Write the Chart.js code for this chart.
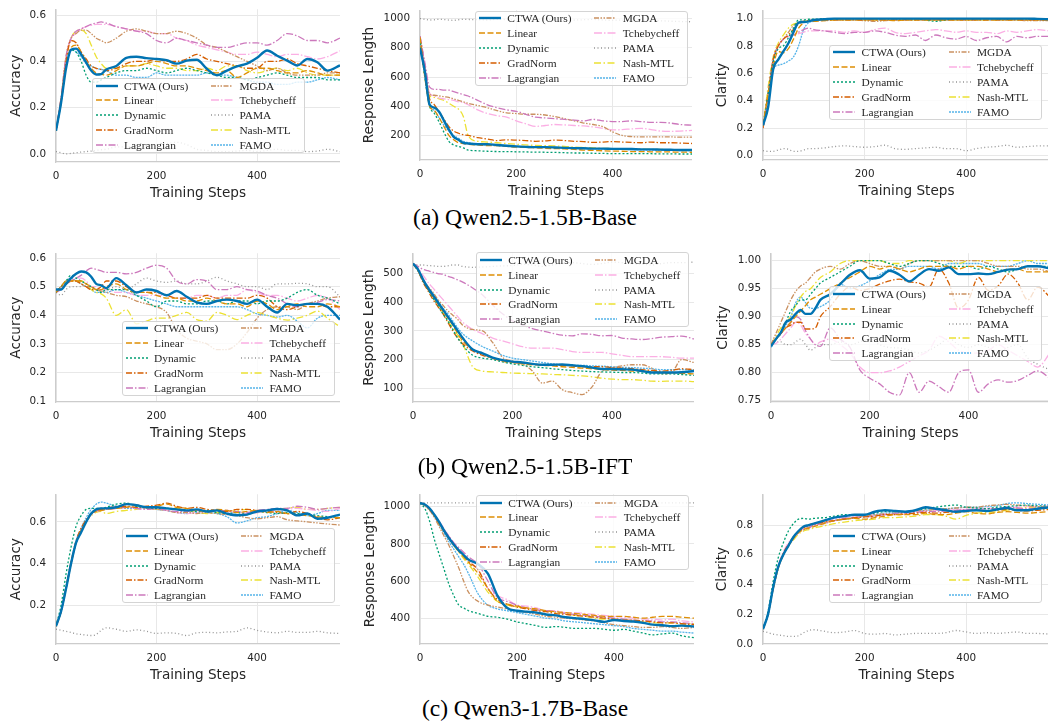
<!DOCTYPE html>
<html><head><meta charset="utf-8">
<script src="https://cdn.jsdelivr.net/npm/chart.js@4.4.0/dist/chart.umd.min.js"></script>
<style>
html,body{margin:0;padding:0;background:#fff;}
body{width:1048px;height:721px;overflow:hidden;position:relative;font-family:'DejaVu Sans',sans-serif;}
.panel{position:absolute;}
.legend{position:absolute;width:213px;height:75px;background:rgba(255,255,255,0.8);border:1px solid #d4d4d4;border-radius:3px;box-sizing:border-box;font-family:'Liberation Serif',serif;font-size:11.4px;color:#262626;}
.item{position:absolute;height:14px;line-height:14px;white-space:nowrap;}
.item svg{position:absolute;top:4px;}
.item span{position:absolute;}
.cap{position:absolute;left:275px;width:500px;text-align:center;font-family:'Liberation Serif',serif;font-size:23.5px;line-height:23.5px;color:#000;}
</style></head>
<body>
<script>
// ---------- data ----------
const STEPS = [0,10,20,30,40,50,60,70,80,90,100,120,140,160,180,200,220,240,260,280,300,320,340,360,380,400,420,440,460,480,500,520,540,565];
const METHODS = ['CTWA (Ours)','Linear','Dynamic','GradNorm','Lagrangian','MGDA','Tchebycheff','PAMA','Nash-MTL','FAMO'];
const X_TICKS = [0,200,400];

// (a) Qwen2.5-1.5B-Base : Accuracy
const A1 = [
 [0.10,0.22,0.37,0.45,0.455,0.43,0.395,0.36,0.343,0.345,0.365, 0.38,0.415,0.42,0.414,0.41,0.405,0.39,0.403,0.407,0.368,0.34,0.36,0.378,0.39,0.415,0.447,0.424,0.403,0.382,0.41,0.396,0.36,0.382],
 [0.10,0.22,0.38,0.46,0.47,0.44,0.40,0.37,0.35,0.345,0.34, 0.36,0.38,0.38,0.39,0.40,0.39,0.38,0.38,0.37,0.36,0.35,0.36,0.33,0.35,0.37,0.37,0.36,0.35,0.35,0.36,0.35,0.34,0.34],
 [0.10,0.22,0.38,0.45,0.44,0.40,0.34,0.31,0.31,0.32,0.33, 0.35,0.36,0.36,0.37,0.36,0.35,0.36,0.37,0.36,0.35,0.34,0.33,0.33,0.32,0.33,0.34,0.35,0.34,0.33,0.33,0.33,0.32,0.32],
 [0.10,0.23,0.40,0.49,0.48,0.44,0.41,0.38,0.37,0.365,0.36, 0.37,0.39,0.40,0.40,0.41,0.40,0.40,0.41,0.43,0.41,0.40,0.39,0.38,0.37,0.37,0.40,0.40,0.41,0.39,0.38,0.37,0.36,0.35],
 [0.10,0.24,0.42,0.50,0.53,0.54,0.55,0.56,0.565,0.57,0.565, 0.55,0.54,0.53,0.52,0.49,0.48,0.50,0.49,0.48,0.47,0.46,0.46,0.47,0.48,0.48,0.47,0.49,0.52,0.51,0.49,0.49,0.48,0.50],
 [0.10,0.24,0.42,0.50,0.52,0.535,0.535,0.52,0.50,0.49,0.48, 0.50,0.53,0.54,0.53,0.52,0.52,0.53,0.52,0.50,0.47,0.46,0.44,0.42,0.40,0.38,0.36,0.37,0.35,0.34,0.34,0.34,0.35,0.35],
 [0.10,0.24,0.42,0.50,0.52,0.54,0.55,0.555,0.56,0.56,0.56, 0.55,0.54,0.53,0.53,0.52,0.52,0.50,0.49,0.47,0.46,0.45,0.44,0.43,0.43,0.44,0.43,0.42,0.43,0.43,0.42,0.41,0.42,0.445],
 [0.01,0.005,0.0,0.002,0.005,0.008,0.01,0.012,0.015,0.018,0.02, 0.03,0.03,0.035,0.035,0.04,0.045,0.05,0.04,0.02,0.015,0.01,0.01,0.012,0.015,0.01,0.015,0.02,0.015,0.015,0.01,0.012,0.02,0.01],
 [0.10,0.24,0.42,0.50,0.53,0.535,0.52,0.47,0.42,0.39,0.37, 0.37,0.38,0.38,0.39,0.38,0.37,0.37,0.36,0.36,0.37,0.36,0.38,0.38,0.36,0.35,0.36,0.37,0.36,0.37,0.35,0.34,0.34,0.34],
 [0.10,0.22,0.38,0.45,0.44,0.42,0.39,0.38,0.37,0.365,0.36, 0.34,0.34,0.33,0.33,0.35,0.34,0.34,0.34,0.34,0.35,0.34,0.34,0.33,0.32,0.31,0.31,0.30,0.30,0.31,0.31,0.32,0.33,0.32]
];
// (a) Response Length
const A2 = [
 [800,640,410,390,360,300,240,190,170,150,145, 140,140,135,130,125,122,120,120,118,115,113,112,110,110,108,108,107,105,105,103,102,100,100],
 [870,600,400,370,320,260,200,170,150,145,140, 135,130,130,125,120,118,115,112,110,108,105,100,98,95,93,92,90,90,88,88,87,86,85],
 [860,600,400,350,290,220,160,135,125,115,100, 95,92,90,90,88,87,86,85,84,82,80,80,78,77,76,76,75,75,75,74,74,73,73],
 [870,620,450,410,360,310,260,230,215,205,200, 185,175,165,170,168,165,160,163,168,165,160,158,152,155,158,155,152,150,155,150,150,148,145],
 [880,700,530,515,515,510,510,500,490,480,470, 440,410,390,375,365,345,325,320,315,310,305,300,310,300,295,295,300,295,290,290,285,275,270],
 [880,680,480,475,470,465,460,450,440,430,420, 405,390,370,355,350,345,345,340,330,315,300,285,275,260,225,200,192,190,190,190,190,188,188],
 [880,680,490,470,455,450,445,440,430,425,410, 375,350,335,325,300,280,262,268,275,272,268,265,258,248,238,240,245,248,240,230,228,230,235],
 [1000,995,990,992,995,993,990,988,992,995,994, 992,990,995,993,990,992,995,993,990,988,990,992,994,990,988,990,985,988,990,985,982,980,978],
 [870,650,470,460,450,440,420,400,380,330,200, 160,155,150,145,140,135,132,130,128,125,120,118,115,112,110,108,107,106,105,104,103,102,102],
 [860,600,410,370,320,270,230,200,180,160,150, 140,135,130,128,125,122,120,118,118,115,114,112,110,108,106,105,103,102,100,100,98,97,96]
];
// (a) Clarity
const A3 = [
 [0.22,0.35,0.63,0.70,0.76,0.82,0.90,0.97,0.975,0.98,0.99, 0.995,1.0,1.0,1.0,1.0,1.0,1.0,1.0,1.0,1.0,1.0,1.0,1.0,1.0,1.0,1.0,1.0,1.0,1.0,1.0,1.0,0.998,0.995],
 [0.22,0.45,0.65,0.76,0.75,0.78,0.85,0.93,0.97,0.98,0.98, 0.985,0.99,0.99,0.99,0.99,0.99,0.99,0.985,0.99,0.99,0.99,0.99,0.99,0.99,0.99,0.99,0.99,0.99,0.99,0.99,0.99,0.99,0.99],
 [0.22,0.45,0.68,0.78,0.80,0.86,0.93,0.99,0.99,0.995,0.995, 1.0,0.995,1.0,1.0,1.0,1.0,1.0,1.0,1.0,1.0,0.99,0.98,0.99,1.0,1.0,1.0,1.0,0.995,0.995,1.0,1.0,1.0,1.0],
 [0.20,0.45,0.70,0.80,0.85,0.88,0.92,0.96,0.98,0.985,0.99, 0.99,0.99,0.99,0.99,0.99,0.99,0.99,0.99,0.99,0.99,0.99,0.99,0.99,0.99,0.99,0.99,0.99,0.99,0.99,0.99,0.99,0.99,0.99],
 [0.20,0.45,0.70,0.80,0.85,0.87,0.88,0.90,0.92,0.93,0.92, 0.91,0.90,0.89,0.90,0.90,0.91,0.90,0.88,0.87,0.88,0.84,0.88,0.86,0.85,0.87,0.84,0.86,0.87,0.83,0.87,0.86,0.87,0.87],
 [0.20,0.45,0.70,0.80,0.85,0.90,0.95,0.97,0.98,0.98,0.985, 0.985,0.99,0.99,0.99,0.985,0.98,0.985,0.99,0.99,0.99,0.99,0.99,0.99,0.99,0.99,0.99,0.99,0.99,0.99,0.99,0.985,0.985,0.985],
 [0.20,0.45,0.70,0.80,0.85,0.87,0.88,0.89,0.90,0.91,0.91, 0.91,0.91,0.90,0.91,0.90,0.92,0.93,0.90,0.89,0.90,0.91,0.92,0.91,0.90,0.91,0.90,0.90,0.89,0.91,0.90,0.91,0.92,0.91],
 [0.035,0.03,0.03,0.04,0.05,0.045,0.03,0.03,0.04,0.05,0.05, 0.055,0.065,0.07,0.065,0.06,0.065,0.075,0.05,0.045,0.05,0.055,0.06,0.05,0.05,0.035,0.05,0.06,0.065,0.075,0.06,0.065,0.07,0.07],
 [0.20,0.50,0.72,0.82,0.88,0.93,0.96,0.97,0.98,0.985,0.99, 0.99,0.99,0.99,0.99,0.99,0.99,0.99,0.99,0.99,0.99,0.99,0.99,0.99,0.99,0.99,0.99,0.99,0.99,0.99,0.99,0.99,0.99,0.99],
 [0.20,0.40,0.63,0.66,0.67,0.69,0.72,0.80,0.92,0.97,0.98, 0.99,0.99,0.99,0.99,0.99,0.99,0.99,0.99,0.99,0.99,0.99,0.99,0.99,0.99,0.99,0.99,0.99,0.99,0.99,0.99,0.99,0.99,0.99]
];
// (b) Qwen2.5-1.5B-IFT : Accuracy
const B1 = [
 [0.49,0.49,0.51,0.53,0.545,0.553,0.55,0.535,0.51,0.505,0.495, 0.53,0.505,0.48,0.49,0.485,0.47,0.485,0.465,0.445,0.44,0.45,0.455,0.45,0.44,0.455,0.43,0.41,0.44,0.435,0.44,0.44,0.43,0.385],
 [0.48,0.50,0.52,0.52,0.52,0.52,0.51,0.50,0.49,0.49,0.50, 0.51,0.49,0.48,0.48,0.47,0.46,0.46,0.45,0.45,0.46,0.45,0.44,0.44,0.43,0.45,0.44,0.42,0.43,0.44,0.43,0.43,0.44,0.43],
 [0.48,0.50,0.52,0.54,0.53,0.52,0.51,0.50,0.49,0.48,0.49, 0.49,0.49,0.47,0.45,0.43,0.45,0.45,0.44,0.44,0.45,0.45,0.44,0.45,0.45,0.44,0.45,0.45,0.46,0.48,0.49,0.47,0.46,0.44],
 [0.48,0.50,0.51,0.52,0.52,0.51,0.50,0.49,0.49,0.50,0.52, 0.52,0.50,0.48,0.48,0.48,0.47,0.46,0.46,0.46,0.47,0.46,0.46,0.46,0.46,0.47,0.46,0.43,0.42,0.43,0.44,0.44,0.43,0.43],
 [0.48,0.49,0.51,0.52,0.53,0.54,0.555,0.565,0.56,0.555,0.55, 0.55,0.545,0.55,0.565,0.575,0.565,0.52,0.51,0.525,0.52,0.49,0.49,0.50,0.49,0.485,0.47,0.46,0.44,0.43,0.44,0.445,0.455,0.45],
 [0.48,0.50,0.52,0.525,0.52,0.51,0.50,0.50,0.49,0.485,0.48, 0.47,0.465,0.45,0.44,0.43,0.41,0.35,0.32,0.31,0.30,0.28,0.28,0.30,0.34,0.39,0.42,0.43,0.43,0.42,0.44,0.45,0.46,0.465],
 [0.48,0.50,0.51,0.52,0.53,0.53,0.52,0.50,0.50,0.49,0.49, 0.48,0.48,0.47,0.47,0.47,0.47,0.46,0.46,0.47,0.47,0.46,0.47,0.47,0.49,0.48,0.47,0.47,0.46,0.45,0.46,0.47,0.46,0.42],
 [0.48,0.47,0.49,0.50,0.50,0.50,0.51,0.50,0.49,0.49,0.49, 0.50,0.49,0.51,0.53,0.52,0.515,0.52,0.51,0.51,0.52,0.533,0.52,0.51,0.50,0.50,0.49,0.51,0.51,0.512,0.51,0.50,0.50,0.465],
 [0.48,0.50,0.52,0.525,0.52,0.52,0.51,0.49,0.48,0.475,0.46, 0.40,0.42,0.37,0.38,0.39,0.39,0.40,0.41,0.385,0.38,0.41,0.40,0.385,0.40,0.41,0.40,0.39,0.383,0.39,0.40,0.415,0.39,0.36],
 [0.48,0.50,0.52,0.53,0.52,0.51,0.50,0.49,0.48,0.48,0.48, 0.49,0.48,0.47,0.46,0.45,0.44,0.43,0.43,0.43,0.43,0.43,0.43,0.43,0.42,0.405,0.40,0.394,0.40,0.38,0.356,0.39,0.40,0.40]
];
// (b) Response Length
const B2 = [
 [535,515,480,450,425,400,375,350,325,300,275, 235,222,207,198,193,190,185,182,182,183,180,177,172,167,167,166,165,160,155,155,155,156,160],
 [535,510,475,445,420,395,370,345,320,290,265, 235,220,205,195,190,185,182,180,178,175,173,170,168,165,163,162,160,160,158,155,155,152,150],
 [535,510,475,445,415,390,360,335,305,275,250, 215,205,200,192,185,180,175,172,168,165,162,160,158,157,156,155,155,153,150,150,150,148,145],
 [535,510,470,440,410,385,360,330,300,275,255, 230,215,205,195,190,187,185,182,180,180,178,175,175,175,172,170,168,165,162,160,163,168,165],
 [535,525,515,510,505,500,498,490,485,478,470, 450,425,390,360,335,320,308,300,292,285,283,290,288,283,284,275,272,270,273,278,280,282,272],
 [535,515,480,455,435,410,390,370,355,340,320, 305,300,260,208,195,185,160,118,125,95,85,78,105,160,172,178,182,182,170,150,155,200,190],
 [535,520,495,470,450,430,410,390,370,350,330, 305,290,275,265,255,245,240,240,240,235,228,225,225,225,220,215,210,210,210,210,208,205,205],
 [535,530,530,528,527,525,525,527,530,530,525, 522,523,525,527,528,532,530,525,530,535,538,535,532,535,540,538,535,533,530,535,538,538,540],
 [535,512,478,448,420,395,365,335,310,285,255, 175,160,157,155,153,152,151,150,148,147,145,143,140,135,132,130,130,128,125,124,125,125,123],
 [535,515,480,455,430,405,380,360,335,310,290, 265,245,230,215,205,200,195,190,185,182,180,180,178,177,175,173,172,170,168,165,165,165,163]
];
// (b) Clarity
const B3 = [
 [0.847,0.86,0.872,0.89,0.895,0.905,0.912,0.905,0.905,0.915,0.93, 0.94,0.958,0.975,0.983,0.968,0.97,0.982,0.975,0.963,0.975,0.985,0.982,0.988,0.976,0.976,0.977,0.976,0.98,0.984,0.985,0.99,0.99,0.986],
 [0.85,0.86,0.87,0.88,0.89,0.90,0.91,0.92,0.93,0.935,0.94, 0.95,0.96,0.97,0.98,0.99,0.985,0.99,0.985,0.98,0.985,0.99,0.99,0.99,0.985,0.99,0.99,0.985,0.98,0.985,0.985,0.98,0.98,0.98],
 [0.85,0.86,0.87,0.89,0.91,0.92,0.93,0.93,0.94,0.95,0.96, 0.97,0.98,0.99,1.0,1.0,1.0,0.995,0.99,0.995,1.0,1.0,0.995,0.99,0.99,0.99,0.985,0.99,0.985,0.98,0.985,0.99,0.99,0.99],
 [0.85,0.86,0.87,0.88,0.885,0.89,0.89,0.878,0.878,0.88,0.90, 0.918,0.94,0.953,0.947,0.95,0.958,0.964,0.967,0.962,0.96,0.953,0.985,0.96,0.915,0.93,0.97,0.947,0.955,0.976,0.96,0.93,0.953,0.935],
 [0.85,0.86,0.87,0.88,0.89,0.90,0.895,0.875,0.86,0.85,0.847, 0.88,0.86,0.845,0.805,0.79,0.78,0.765,0.76,0.80,0.765,0.785,0.775,0.765,0.80,0.805,0.765,0.78,0.787,0.783,0.786,0.795,0.803,0.79],
 [0.85,0.87,0.89,0.91,0.93,0.945,0.955,0.96,0.97,0.98,0.985, 0.99,0.985,0.995,1.0,0.995,0.99,0.99,0.985,0.995,1.0,1.0,1.0,1.0,1.0,1.0,1.0,0.995,0.99,0.99,0.99,0.985,0.985,0.98],
 [0.85,0.852,0.86,0.87,0.88,0.89,0.885,0.87,0.86,0.85,0.855, 0.86,0.85,0.835,0.81,0.80,0.80,0.803,0.81,0.82,0.83,0.84,0.865,0.855,0.84,0.835,0.835,0.84,0.85,0.84,0.83,0.82,0.81,0.835],
 [0.85,0.855,0.855,0.85,0.85,0.855,0.86,0.85,0.84,0.845,0.85, 0.85,0.855,0.85,0.855,0.86,0.85,0.845,0.844,0.84,0.835,0.84,0.85,0.861,0.85,0.845,0.85,0.845,0.838,0.845,0.85,0.826,0.815,0.805],
 [0.85,0.865,0.88,0.89,0.90,0.92,0.935,0.945,0.95,0.96,0.97, 0.98,0.995,1.0,1.0,1.0,1.0,0.995,0.995,1.0,1.0,1.0,1.0,1.0,0.995,1.0,1.0,1.0,1.0,1.0,1.0,1.0,1.0,1.0],
 [0.845,0.86,0.87,0.885,0.90,0.925,0.935,0.925,0.915,0.915,0.918, 0.93,0.958,0.95,0.955,0.964,0.975,0.984,0.985,0.99,0.99,0.99,0.985,0.995,0.995,0.995,0.995,0.99,0.99,0.99,0.995,1.0,0.995,0.995]
];
// (c) Qwen3-1.7B-Base : Accuracy
const C1 = [
 [0.10,0.17,0.28,0.40,0.50,0.55,0.60,0.64,0.66,0.665,0.665, 0.67,0.685,0.68,0.67,0.67,0.665,0.66,0.655,0.66,0.65,0.655,0.64,0.632,0.635,0.65,0.655,0.662,0.655,0.631,0.64,0.615,0.62,0.635],
 [0.10,0.17,0.28,0.40,0.50,0.56,0.60,0.64,0.65,0.655,0.66, 0.665,0.67,0.68,0.67,0.675,0.685,0.67,0.665,0.655,0.65,0.66,0.655,0.645,0.65,0.655,0.645,0.65,0.64,0.635,0.63,0.625,0.62,0.62],
 [0.10,0.20,0.35,0.48,0.58,0.63,0.66,0.665,0.665,0.665,0.67, 0.685,0.69,0.675,0.67,0.665,0.665,0.66,0.655,0.65,0.655,0.645,0.64,0.645,0.635,0.65,0.645,0.64,0.645,0.64,0.635,0.63,0.625,0.62],
 [0.10,0.17,0.29,0.41,0.51,0.57,0.61,0.64,0.655,0.66,0.665, 0.67,0.675,0.67,0.675,0.68,0.69,0.675,0.665,0.67,0.66,0.655,0.65,0.66,0.66,0.655,0.65,0.645,0.64,0.65,0.64,0.62,0.61,0.62],
 [0.10,0.17,0.28,0.40,0.50,0.56,0.60,0.635,0.65,0.655,0.66, 0.665,0.67,0.665,0.66,0.665,0.655,0.65,0.65,0.655,0.65,0.65,0.655,0.65,0.645,0.655,0.66,0.665,0.665,0.675,0.67,0.66,0.665,0.67],
 [0.10,0.17,0.28,0.40,0.50,0.56,0.60,0.64,0.655,0.66,0.665, 0.675,0.67,0.67,0.665,0.66,0.655,0.645,0.645,0.64,0.645,0.64,0.635,0.63,0.62,0.615,0.62,0.625,0.61,0.605,0.60,0.595,0.59,0.585],
 [0.10,0.17,0.28,0.40,0.50,0.56,0.60,0.635,0.65,0.66,0.66, 0.665,0.67,0.665,0.66,0.665,0.655,0.645,0.64,0.645,0.65,0.655,0.65,0.645,0.64,0.645,0.65,0.655,0.66,0.665,0.66,0.655,0.65,0.665],
 [0.085,0.08,0.075,0.07,0.063,0.06,0.057,0.055,0.06,0.08,0.092, 0.085,0.075,0.082,0.075,0.065,0.068,0.065,0.055,0.068,0.07,0.068,0.072,0.075,0.092,0.08,0.072,0.068,0.075,0.07,0.07,0.075,0.068,0.065],
 [0.10,0.17,0.28,0.40,0.50,0.56,0.60,0.63,0.645,0.65,0.64, 0.65,0.655,0.66,0.665,0.66,0.665,0.665,0.655,0.645,0.64,0.645,0.65,0.655,0.66,0.645,0.655,0.66,0.665,0.67,0.66,0.66,0.665,0.67],
 [0.10,0.17,0.29,0.41,0.51,0.57,0.62,0.66,0.685,0.695,0.69, 0.675,0.665,0.665,0.67,0.66,0.655,0.645,0.64,0.645,0.645,0.64,0.625,0.595,0.605,0.62,0.625,0.64,0.655,0.645,0.63,0.64,0.655,0.655]
];
// (c) Response Length
const C2 = [
 [1020,1012,990,955,915,870,830,795,765,740,715, 690,640,520,455,440,435,430,420,415,405,400,395,388,380,390,385,382,375,365,362,357,360,355],
 [1020,1010,985,950,905,865,825,790,760,730,700, 640,560,490,475,465,455,450,440,435,430,425,420,415,410,410,410,405,400,405,410,410,405,400],
 [1020,990,920,820,740,660,580,520,470,455,440, 425,410,405,395,380,370,360,350,355,350,345,345,345,340,335,340,330,320,310,315,320,305,295],
 [1020,1010,985,950,910,870,830,795,765,735,705, 660,560,500,475,460,450,440,435,425,420,415,410,405,400,395,390,390,385,380,375,375,370,365],
 [1020,1012,990,955,915,875,840,805,780,755,730, 690,600,510,490,470,455,445,440,435,425,420,415,410,405,400,395,390,385,385,380,380,375,370],
 [1020,1005,980,940,890,840,790,730,670,600,540, 490,470,460,450,440,430,420,410,405,400,395,390,385,375,365,360,355,350,350,355,350,345,350],
 [1020,1010,990,955,920,880,840,800,770,740,710, 660,560,520,500,470,465,455,440,440,430,430,425,420,415,410,405,400,395,395,390,395,385,380],
 [1022,1021,1020,1020,1021,1020,1020,1021,1020,1020,1020, 1021,1020,1020,1021,1020,1020,1021,1020,1020,1020,1021,1020,1020,1021,1020,1020,1020,1021,1020,1020,1021,1020,1020],
 [1020,1008,985,950,910,870,830,790,755,720,690, 620,540,490,470,460,455,445,440,430,425,415,410,400,395,395,390,385,380,375,375,375,370,370],
 [1020,1005,980,945,900,855,810,770,730,690,640, 530,470,450,440,430,420,410,400,395,385,380,375,370,365,360,355,345,340,335,330,330,325,320]
];
// (c) Clarity
const C3 = [
 [0.10,0.20,0.38,0.52,0.60,0.66,0.72,0.76,0.79,0.80,0.81, 0.83,0.85,0.86,0.87,0.87,0.89,0.90,0.895,0.89,0.90,0.92,0.91,0.90,0.89,0.895,0.90,0.895,0.905,0.915,0.90,0.90,0.91,0.92],
 [0.10,0.20,0.37,0.51,0.60,0.66,0.71,0.75,0.77,0.78,0.79, 0.81,0.83,0.84,0.845,0.84,0.85,0.86,0.87,0.87,0.87,0.88,0.87,0.87,0.88,0.89,0.88,0.875,0.885,0.89,0.885,0.88,0.885,0.89],
 [0.10,0.22,0.42,0.58,0.68,0.76,0.81,0.84,0.845,0.84,0.845, 0.85,0.86,0.87,0.87,0.87,0.88,0.89,0.89,0.89,0.90,0.91,0.92,0.93,0.935,0.92,0.915,0.91,0.92,0.925,0.93,0.935,0.93,0.93],
 [0.10,0.20,0.38,0.52,0.61,0.67,0.72,0.76,0.78,0.80,0.81, 0.82,0.83,0.84,0.85,0.855,0.86,0.87,0.87,0.875,0.88,0.885,0.88,0.885,0.89,0.895,0.90,0.895,0.90,0.905,0.90,0.895,0.90,0.905],
 [0.10,0.20,0.37,0.51,0.60,0.66,0.71,0.75,0.77,0.78,0.80, 0.81,0.83,0.845,0.85,0.855,0.86,0.87,0.875,0.88,0.885,0.89,0.89,0.895,0.90,0.905,0.905,0.91,0.91,0.92,0.915,0.91,0.915,0.92],
 [0.10,0.20,0.37,0.51,0.60,0.66,0.71,0.75,0.77,0.785,0.80, 0.815,0.83,0.84,0.85,0.86,0.87,0.875,0.88,0.89,0.895,0.90,0.905,0.91,0.915,0.92,0.92,0.93,0.935,0.94,0.935,0.93,0.925,0.92],
 [0.10,0.20,0.38,0.53,0.62,0.68,0.72,0.76,0.78,0.79,0.80, 0.82,0.84,0.85,0.86,0.865,0.87,0.875,0.88,0.89,0.89,0.895,0.90,0.90,0.905,0.905,0.91,0.915,0.91,0.92,0.92,0.925,0.925,0.93],
 [0.085,0.075,0.065,0.06,0.055,0.05,0.05,0.055,0.075,0.09,0.095, 0.085,0.075,0.08,0.09,0.07,0.065,0.07,0.06,0.065,0.07,0.07,0.07,0.075,0.09,0.08,0.07,0.075,0.07,0.075,0.08,0.07,0.07,0.065],
 [0.10,0.20,0.37,0.51,0.60,0.66,0.70,0.74,0.76,0.77,0.78, 0.795,0.81,0.82,0.83,0.835,0.84,0.85,0.85,0.855,0.86,0.87,0.87,0.86,0.84,0.865,0.88,0.885,0.89,0.90,0.91,0.92,0.92,0.925],
 [0.10,0.20,0.38,0.52,0.61,0.67,0.72,0.76,0.78,0.79,0.80, 0.82,0.83,0.84,0.85,0.86,0.87,0.88,0.885,0.89,0.895,0.90,0.905,0.91,0.915,0.92,0.92,0.925,0.93,0.945,0.95,0.945,0.94,0.935]
];

// tick labels
const Y_ACC_A = ['0.0','0.2','0.4','0.6'];
const Y_LEN_A = ['200','400','600','800','1000'];
const Y_CLR_A = ['0.0','0.2','0.4','0.6','0.8','1.0'];
const Y_ACC_B = ['0.1','0.2','0.3','0.4','0.5','0.6'];
const Y_LEN_B = ['100','200','300','400','500'];
const Y_CLR_B = ['0.75','0.80','0.85','0.90','0.95','1.00'];
const Y_ACC_C = ['0.2','0.4','0.6'];
const Y_LEN_C = ['400','600','800','1000'];
const Y_CLR_C = ['0.0','0.2','0.4','0.6','0.8'];
const CAPTIONS = ['(a) Qwen2.5-1.5B-Base','(b) Qwen2.5-1.5B-IFT','(c) Qwen3-1.7B-Base'];

// ---------- styles ----------
const COLORS = ['#0173b2','#de8f05','#029e73','#d55e00','#cc78bc','#ca9161','#fbafe4','#949494','#ece133','#56b4e9'];
const WIDTHS = [2.4,1.3,1.3,1.3,1.3,1.3,1.3,1.3,1.3,1.3];
const DASHES = [[],[6,2.5],[2,2],[6,2,1.5,2],[7,2,1.5,2],[5,1.5,1.5,1.5,1.5,1.5],[8,2,1.5,2],[1,2.5],[7,2.5,1.5,2.5],[2,1]];
const TXT = '#262626', GRID = '#e8e8e8', SPINE = '#cccccc';

// ---------- layout ----------
const PANELS = [
 {d:A1, t:'Accuracy',        yt:Y_ACC_A, min:-0.035, max:0.625, r:[56,3,340,161.5],      tp:12.5, lg:[91.7,85.7]},
 {d:A2, t:'Response Length', yt:Y_LEN_A, min:32,     max:1057,  r:[420,4,692,159.5],     tp:1.8,  lg:[475,18.3]},
 {d:A3, t:'Clarity',         yt:Y_CLR_A, min:-0.033, max:1.061, r:[763.3,4,1050,160],    tp:11.8, lg:[829.3,52.3]},
 {d:B1, t:'Accuracy',        yt:Y_ACC_B, min:0.097,  max:0.617, r:[56,246.5,340,401],    tp:12.5, lg:[121.7,328.3]},
 {d:B2, t:'Response Length', yt:Y_LEN_B, min:52,     max:571,   r:[413.3,246.5,694,401], tp:8.5,  lg:[476,260]},
 {d:B3, t:'Clarity',         yt:Y_CLR_B, min:0.7476, max:1.0133,r:[770.7,246.5,1050,401],tp:4.4,  lg:[829.3,294]},
 {d:C1, t:'Accuracy',        yt:Y_ACC_C, min:0.0143, max:0.7326,r:[56,488,340,643.5],    tp:12.5, lg:[121.7,536]},
 {d:C2, t:'Response Length', yt:Y_LEN_C, min:261,    max:1067,  r:[420,488,694,643.5],   tp:2.5,  lg:[476,502.7]},
 {d:C3, t:'Clarity',         yt:Y_CLR_C, min:-0.001, max:1.0077,r:[763.3,488,1050,643.5],tp:11.8, lg:[829.3,536]}
];
const CAP_TOPS = [205.5,454.7,697];

Chart.defaults.font.family = "'DejaVu Sans'";
const YW = 60, PT = 10, XH = 40;

function buildPanel(p){
  const [L,T,R,B] = p.r;
  const cw = Math.round(R - L + YW), ch = Math.round(PT + (B - T) + XH);
  const div = document.createElement('div');
  div.className = 'panel';
  div.style.left = (L - YW) + 'px'; div.style.top = (T - PT) + 'px';
  div.style.width = cw + 'px'; div.style.height = ch + 'px';
  const cv = document.createElement('canvas');
  cv.width = cw; cv.height = ch; cv.style.width = cw + 'px'; cv.style.height = ch + 'px';
  div.appendChild(cv); document.body.appendChild(div);
  const datasets = METHODS.map((m,i)=>({
    label:m,
    data: STEPS.map((s,j)=>({x:s, y:p.d[i][j]})),
    borderColor: COLORS[i], borderWidth: WIDTHS[i], borderDash: DASHES[i],
    pointRadius:0, fill:false, cubicInterpolationMode:'monotone'
  }));
  const yVals = p.yt.map(Number);
  const chart = new Chart(cv, {
    type:'line',
    data:{datasets},
    options:{
      responsive:false, animation:false, devicePixelRatio:1,
      layout:{padding:{top:PT,left:0,right:0,bottom:0}},
      plugins:{legend:{display:false}, tooltip:{enabled:false}},
      scales:{
        x:{type:'linear', min:0, max:565,
           afterBuildTicks:s=>{s.ticks = X_TICKS.map(v=>({value:v}));},
           afterFit:s=>{s.height = XH;},
           grid:{color:GRID, lineWidth:1, drawTicks:false},
           border:{color:SPINE, width:1.25},
           ticks:{padding:8, color:TXT, font:{size:10.4}, maxRotation:0, autoSkip:false, callback:v=>String(v)},
           title:{display:true, text:'Training Steps', color:TXT, font:{size:13.6}, padding:{top:0,bottom:0}}},
        y:{type:'linear', min:p.min, max:p.max,
           afterBuildTicks:s=>{s.ticks = yVals.map(v=>({value:v}));},
           afterFit:s=>{s.width = YW;},
           grid:{color:GRID, lineWidth:1, drawTicks:false},
           border:{color:SPINE, width:1.25},
           ticks:{padding:10, color:TXT, font:{size:10.4}, autoSkip:false,
                  callback:v=>{const k = yVals.findIndex(u=>Math.abs(u-v)<1e-9); return k>=0 ? p.yt[k] : '';}},
           title:{display:true, text:p.t, color:TXT, font:{size:13.6}, padding:{top:p.tp,bottom:0}}}
      }
    }
  });
  // legend overlay built from the chart's datasets
  const lg = document.createElement('div');
  lg.className = 'legend';
  lg.style.left = p.lg[0] + 'px'; lg.style.top = (p.lg[1] - 7.8) + 'px';
  chart.data.datasets.forEach((ds,i)=>{
    const col = Math.floor(i/5), row = i%5;
    const it = document.createElement('div');
    it.className = 'item';
    it.style.top = (7.8 + row*14.8 - 7 - 1) + 'px';
    it.style.left = '0px';
    const lx = col ? 118.3 : 3, tx = col ? 146.7 : 31.3;
    it.innerHTML = '<svg width="23" height="6" style="left:'+lx+'px"><line x1="0" y1="3" x2="22" y2="3" stroke="'+ds.borderColor+'" stroke-width="'+ds.borderWidth+'" stroke-dasharray="'+(ds.borderDash.length?ds.borderDash.join(' '):'none')+'"/></svg><span style="left:'+tx+'px">'+ds.label+'</span>';
    lg.appendChild(it);
  });
  document.body.appendChild(lg);
}
PANELS.forEach(buildPanel);
CAPTIONS.forEach((c,i)=>{
  const d = document.createElement('div');
  d.className = 'cap'; d.style.top = CAP_TOPS[i] + 'px'; d.textContent = c;
  document.body.appendChild(d);
});
</script>
</body></html>
